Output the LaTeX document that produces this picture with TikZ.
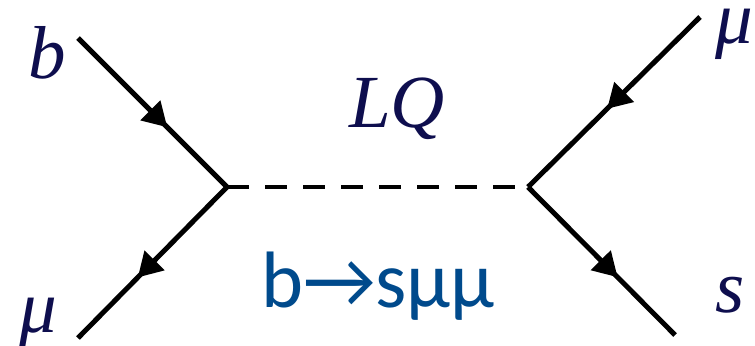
\documentclass[tikz,border=0pt]{standalone}
\usepackage{fontspec}
\setmainfont{Liberation Serif}
\newfontfamily\calib{Carlito}
\usetikzlibrary{arrows.meta,decorations.markings}
\definecolor{navy}{RGB}{14,14,78}
\definecolor{procblue}{RGB}{0,74,140}
\begin{document}
\begin{tikzpicture}[x=0.5pt,y=-0.5pt]
        % Style Definitions
        \tikzstyle{fermion} = [line width=2.5pt, postaction={decorate},
            decoration={markings, mark=at position #1 with {\arrow{Triangle[length=12pt,width=13.5pt]}}}]
        \tikzstyle{scalar} = [line width=2.3pt, dash pattern=on 11pt off 8pt]
        \tikzstyle{particle} = [text=navy, inner sep=0pt, anchor=base, font=\fontsize{37.5}{40}\selectfont\itshape]
        \tikzstyle{process} = [text=procblue, inner sep=0pt, anchor=base, font=\fontsize{40}{44}\selectfont\calib]
        \useasboundingbox (0,0) rectangle (755,345);

        % Vertices and external ends
        \coordinate (vl) at (227,187);
        \coordinate (vr) at (528,187);
        \coordinate (bin) at (78,38);
        \coordinate (muout) at (78,338);
        \coordinate (muin) at (700,17);
        \coordinate (sout) at (675,335);

        % Labels
        \node (lb) [particle] at (47,78) {b};
        \node (lmul) [particle] at (38,332) {μ};
        \node (lmur) [particle] at (734,43) {μ};
        \node (ls) [particle] at (730,312) {s};
        \node (llq) [particle] at (397,127) {LQ};
        \node (lproc) [process] at (378,307) {b→sμμ};

        % Lines
        \draw[fermion=0.6] (bin) -- (vl);
        \draw[fermion=0.6] (vl) -- (muout);
        \draw[scalar] (vl) -- (vr);
        \draw[fermion=0.54] (muin) -- (vr);
        \draw[fermion=0.61] (vr) -- (sout);

\end{tikzpicture}
\end{document}
